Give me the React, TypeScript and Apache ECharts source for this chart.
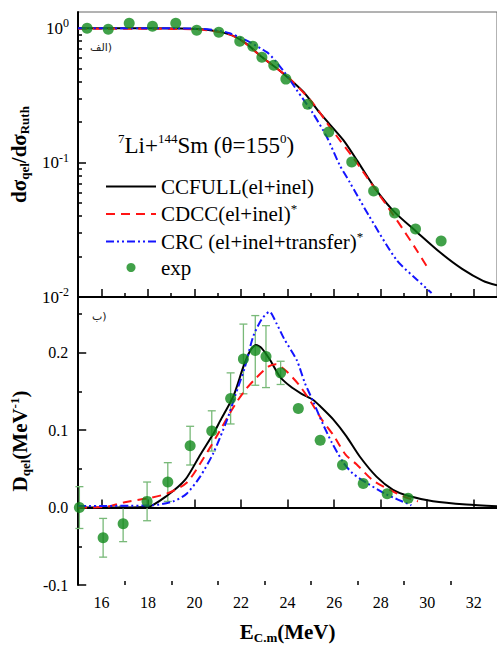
import React, { useEffect, useRef } from 'react';
import * as echarts from 'echarts';

const FONT = 'Liberation Serif';

// ---------- top panel (dσqel/dσRuth, log scale) ----------
const topExpE = [15.39, 16.3, 17.2, 18.2, 19.2, 20.1, 21.05, 21.95, 22.51, 22.9, 23.41, 23.93, 24.87, 25.77, 26.76, 27.7, 28.6, 29.5, 30.6];
const topExpV = [1.0, 0.983, 1.089, 1.035, 1.089, 0.966, 0.934, 0.8, 0.735, 0.609, 0.531, 0.418, 0.272, 0.169, 0.101, 0.0614, 0.0421, 0.0321, 0.0261];

const topCcE = [15, 18, 20.2, 21.5, 22.2, 22.9, 23.8, 24.7, 25.4, 26.4, 27.0, 27.8, 28.6, 29.55, 30.55, 31.5, 32.4, 33];
const topCcV = [1.0, 1.0, 0.985, 0.9, 0.774, 0.61, 0.463, 0.334, 0.233, 0.147, 0.103, 0.063, 0.0428, 0.0305, 0.0215, 0.0162, 0.0132, 0.0122];

const topCdE = [15, 18, 20.2, 21.5, 22.2, 22.9, 23.8, 24.23, 25.09, 25.82, 26.8, 27.3, 28.69, 29.55, 30.02];
const topCdV = [0.99, 0.99, 0.978, 0.9, 0.77, 0.61, 0.463, 0.4, 0.277, 0.184, 0.11, 0.083, 0.0375, 0.0223, 0.0165];

const topCrE = [15, 18, 20.2, 21.52, 23.11, 23.8, 24.4, 25.09, 25.69, 26.24, 26.67, 27.53, 28.69, 29.55, 30.19];
const topCrV = [1.0, 1.0, 0.99, 0.918, 0.663, 0.487, 0.346, 0.233, 0.155, 0.096, 0.0716, 0.0394, 0.0188, 0.0135, 0.0107];

// ---------- bottom panel (Dqel) ----------
const botExpE = [15.05, 16.07, 16.93, 17.96, 18.85, 19.81, 20.74, 21.55, 22.1, 22.61, 23.07, 23.7, 24.46, 25.4, 26.36, 27.25, 28.28, 29.18];
const botExpV = [0.0, -0.039, -0.021, 0.008, 0.033, 0.08, 0.099, 0.141, 0.192, 0.203, 0.195, 0.174, 0.128, 0.087, 0.055, 0.031, 0.018, 0.012];
const botExpErr = [0.027, 0.025, 0.023, 0.025, 0.025, 0.025, 0.026, 0.033, 0.045, 0.045, 0.04, 0.015, 0, 0, 0, 0, 0, 0];

const botCcE = [15, 17, 18, 18.8, 19.6, 20.24, 20.8, 21.1, 21.67, 22.1, 22.38, 22.64, 22.88, 23.24, 23.67, 24.1, 24.6, 25.1, 25.4, 25.96, 26.53, 27.1, 27.82, 28.53, 29.25, 30.25, 31.68, 33];
const botCcV = [0, 0, 0.001, 0.015, 0.036, 0.068, 0.095, 0.112, 0.144, 0.182, 0.202, 0.21, 0.206, 0.191, 0.169, 0.157, 0.147, 0.139, 0.131, 0.114, 0.092, 0.066, 0.04, 0.023, 0.0146, 0.0082, 0.0039, 0.0017];

const botCdE = [15, 16.2, 17, 18, 18.8, 19.66, 20.37, 20.95, 21.52, 21.87, 22.24, 22.6, 23.17, 23.5, 23.95, 24.53, 25.03, 25.46, 25.96, 26.5, 26.96, 27.67, 28.39, 28.96, 29.6];
const botCdV = [0, 0.001, 0.007, 0.012, 0.018, 0.032, 0.063, 0.092, 0.122, 0.139, 0.154, 0.166, 0.182, 0.185, 0.176, 0.157, 0.135, 0.114, 0.094, 0.068, 0.056, 0.035, 0.023, 0.0146, 0.008];

const botCrE = [15, 18.2, 19.08, 19.66, 20.24, 20.8, 21.38, 21.74, 22.17, 22.52, 22.88, 23.22, 23.52, 23.85, 24.4, 24.74, 25.1, 25.5, 25.9, 26.4, 26.8, 27.39, 28.25, 29.32];
const botCrV = [0.002, 0.003, 0.008, 0.018, 0.04, 0.07, 0.112, 0.144, 0.182, 0.221, 0.243, 0.253, 0.238, 0.218, 0.19, 0.161, 0.137, 0.109, 0.084, 0.058, 0.044, 0.032, 0.017, 0.003];

// ---------- ticks ----------
const xMajorTicks = [16, 18, 20, 22, 24, 26, 28, 30, 32];
const xMinorTicks = [17, 19, 21, 23, 25, 27, 29, 31];
const topYMajor = [0.01, 0.1, 1];
const topYMinor = [0.02, 0.03, 0.04, 0.05, 0.06, 0.07, 0.08, 0.09, 0.2, 0.3, 0.4, 0.5, 0.6, 0.7, 0.8, 0.9];
const botYMajor = [-0.1, 0, 0.1, 0.2];
const botYMinor = [-0.05, 0.05, 0.15, 0.25];

const seriesNames = ['CCFULL', 'CDCC', 'CRC', 'exp'];
const legendLabels = ['{t|CCFULL(el+inel)}', '{t|CDCC(el+inel)}{s|*}', '{t|CRC (el+inel+transfer)}{s|*}', '{t|exp}'];

const BLACK = '#000000';
const RED = '#ff1414';
const BLUE = '#1414ff';
const GREEN = '#118a1c';
const ERR = '#78b978';

const zip = (a: number[], b: number[]) => a.map((v, i) => [v, b[i]]);

function buildOption() {
  const labelRich = {
    b: { fontFamily: FONT, fontSize: 17, color: '#000', lineHeight: 22 },
    s: { fontFamily: FONT, fontSize: 12, color: '#000', lineHeight: 10, verticalAlign: 'top' },
  };
  const nameRich = {
    b: { fontFamily: FONT, fontSize: 21, fontWeight: 'bold', color: '#000', lineHeight: 24 },
    sub: { fontFamily: FONT, fontSize: 13, fontWeight: 'bold', color: '#000', lineHeight: 10, verticalAlign: 'bottom' },
    sup: { fontFamily: FONT, fontSize: 13, fontWeight: 'bold', color: '#000', lineHeight: 10, verticalAlign: 'top' },
  };
  const axisLineBlack = { show: true, lineStyle: { color: BLACK, width: 2 } };
  const majorTick = (vals: number[]) => ({ show: true, inside: true, length: 8, lineStyle: { color: BLACK, width: 1.5 }, customValues: vals });
  const minorTickOut = (vals: number[]) => ({ show: true, inside: false, length: 4, lineStyle: { color: BLACK, width: 1.5 }, customValues: vals });

  const lineSeries = (name: string, xi: number, yi: number, data: number[][], color: string, type: any) => ({
    name, type: 'line', xAxisIndex: xi, yAxisIndex: yi, data, symbol: 'none', showSymbol: false, smooth: 0.25,
    lineStyle: { color, width: 2, type }, itemStyle: { color }, z: 3,
  });

  const errData = botExpE.map((e, i) => [e, botExpV[i] - botExpErr[i], botExpV[i] + botExpErr[i]]).filter((_, i) => botExpErr[i] > 0);

  return {
    animation: false,
    backgroundColor: '#ffffff',
    textStyle: { fontFamily: FONT },
    grid: [
      { left: 78, top: 12, width: 419, height: 285, show: true, borderColor: '#666', borderWidth: 1, backgroundColor: 'transparent' },
      { left: 78, top: 297, width: 419, height: 288, show: false },
    ],
    legend: {
      data: seriesNames.map((n) => (n === 'exp' ? { name: n } : { name: n, itemStyle: { opacity: 0, borderWidth: 0 } })),
      orient: 'vertical', left: 105, top: 176, padding: 0, itemGap: 5,
      itemWidth: 50, itemHeight: 9,
      formatter: (n: string) => legendLabels[seriesNames.indexOf(n)],
      textStyle: {
        fontFamily: FONT, fontSize: 21, color: '#000',
        rich: {
          t: { fontFamily: FONT, fontSize: 21, color: '#000', lineHeight: 24 },
          s: { fontFamily: FONT, fontSize: 13, color: '#000', lineHeight: 10, verticalAlign: 'top' },
        },
      },
    },
    xAxis: [
      { type: 'value', gridIndex: 0, min: 15, max: 33, position: 'bottom', axisLine: axisLineBlack, axisTick: majorTick(xMajorTicks), axisLabel: { show: false }, splitLine: { show: false } },
      { type: 'value', gridIndex: 0, min: 15, max: 33, position: 'top', offset: -285, axisLine: { show: false }, axisTick: minorTickOut(xMinorTicks), axisLabel: { show: false }, splitLine: { show: false } },
      {
        type: 'value', gridIndex: 1, min: 15, max: 33, position: 'bottom', axisLine: axisLineBlack, axisTick: majorTick(xMajorTicks),
        axisLabel: { customValues: xMajorTicks, fontFamily: FONT, fontSize: 16, color: '#000', margin: 9 }, splitLine: { show: false },
        name: '{b|E}{sub|C.m}{b|(MeV)}', nameLocation: 'middle', nameGap: 35, nameTextStyle: { fontFamily: FONT, rich: nameRich },
      },
      { type: 'value', gridIndex: 1, min: 15, max: 33, position: 'top', offset: -288, axisLine: { show: false }, axisTick: minorTickOut(xMinorTicks), axisLabel: { show: false }, splitLine: { show: false } },
    ],
    yAxis: [
      {
        type: 'log', logBase: 10, gridIndex: 0, min: 0.01, max: 1.32, position: 'left', axisLine: axisLineBlack, axisTick: majorTick(topYMajor),
        axisLabel: {
          customValues: topYMajor, margin: 9, fontFamily: FONT,
          formatter: (v: number) => '{b|10}{s|' + Math.round(Math.log10(v)) + '}',
          rich: labelRich,
        },
        splitLine: { show: false }, minorTick: { show: false },
        name: '{b|dσ}{sub|qel}{b|/dσ}{sub|Ruth}', nameLocation: 'middle', nameGap: 46, nameRotate: 90, nameTextStyle: { fontFamily: FONT, rich: nameRich },
      },
      { type: 'log', logBase: 10, gridIndex: 0, min: 0.01, max: 1.32, position: 'right', offset: -419, axisLine: { show: false }, axisTick: minorTickOut(topYMinor), axisLabel: { show: false }, splitLine: { show: false } },
      {
        type: 'value', gridIndex: 1, min: -0.1, max: 0.272, position: 'left', axisLine: axisLineBlack, axisTick: majorTick(botYMajor),
        axisLabel: { customValues: botYMajor, margin: 10, fontFamily: FONT, fontSize: 16, color: '#000', formatter: (v: number) => v.toFixed(1) },
        splitLine: { show: false },
        name: '{b|D}{sub|qel}{b|(MeV}{sup|-1}{b|)}', nameLocation: 'middle', nameGap: 46, nameRotate: 90, nameTextStyle: { fontFamily: FONT, rich: nameRich },
      },
      { type: 'value', gridIndex: 1, min: -0.1, max: 0.272, position: 'right', offset: -419, axisLine: { show: false }, axisTick: minorTickOut(botYMinor), axisLabel: { show: false }, splitLine: { show: false } },
    ],
    graphic: [
      {
        type: 'text', x: 118, y: 145,
        style: {
          text: '{s|7}{n|Li+}{s|144}{n|Sm (θ=155}{s|0}{n|)}',
          fontFamily: FONT,
          verticalAlign: 'middle',
          rich: {
            n: { fontFamily: FONT, fontSize: 23, color: '#000', lineHeight: 26 },
            s: { fontFamily: FONT, fontSize: 13, color: '#000', lineHeight: 12, verticalAlign: 'top' },
          },
        },
      },
      { type: 'text', x: 90, y: 47, style: { text: 'الف)', fontFamily: 'DejaVu Sans', fontSize: 11, fill: '#222', verticalAlign: 'middle' } },
      { type: 'text', x: 92, y: 316, style: { text: 'ب)', fontFamily: 'DejaVu Sans', fontSize: 11, fill: '#222', verticalAlign: 'middle' } },
    ],
    series: [
      lineSeries('CCFULL', 0, 0, zip(topCcE, topCcV), BLACK, 'solid'),
      lineSeries('CDCC', 0, 0, zip(topCdE, topCdV), RED, [9, 6]),
      lineSeries('CRC', 0, 0, zip(topCrE, topCrV), BLUE, [8, 3, 2, 3, 2, 3]),
      { name: 'exp', type: 'scatter', xAxisIndex: 0, yAxisIndex: 0, data: zip(topExpE, topExpV), symbol: 'circle', symbolSize: 11, itemStyle: { color: GREEN }, z: 5 },

      {
        name: 'expErr', type: 'custom', xAxisIndex: 2, yAxisIndex: 2, data: errData, z: 2,
        encode: { x: 0, y: [1, 2] },
        renderItem: (params: any, api: any) => {
          const x = api.value(0);
          const p1 = api.coord([x, api.value(1)]);
          const p2 = api.coord([x, api.value(2)]);
          const w = 4;
          const st = { stroke: ERR, lineWidth: 1.3 };
          return {
            type: 'group',
            children: [
              { type: 'line', shape: { x1: p1[0], y1: p1[1], x2: p2[0], y2: p2[1] }, style: st },
              { type: 'line', shape: { x1: p1[0] - w, y1: p1[1], x2: p1[0] + w, y2: p1[1] }, style: st },
              { type: 'line', shape: { x1: p2[0] - w, y1: p2[1], x2: p2[0] + w, y2: p2[1] }, style: st },
            ],
          };
        },
      },
      lineSeries('CCFULL', 2, 2, zip(botCcE, botCcV), BLACK, 'solid'),
      lineSeries('CDCC', 2, 2, zip(botCdE, botCdV), RED, [9, 6]),
      lineSeries('CRC', 2, 2, zip(botCrE, botCrV), BLUE, [8, 3, 2, 3, 2, 3]),
      { name: 'exp', type: 'scatter', xAxisIndex: 2, yAxisIndex: 2, data: zip(botExpE, botExpV), symbol: 'circle', symbolSize: 11, itemStyle: { color: GREEN }, z: 5 },
    ],
  };
}

export default function App() {
  const ref = useRef<HTMLDivElement>(null);
  useEffect(() => {
    if (!ref.current) return;
    const chart = echarts.init(ref.current, null, { renderer: 'svg' });
    chart.setOption(buildOption() as any);
    return () => chart.dispose();
  }, []);
  return (
    <div
      ref={ref}
      style={{ position: 'fixed', left: 0, top: 0, width: 497, height: 646, background: '#fff' }}
    />
  );
}
